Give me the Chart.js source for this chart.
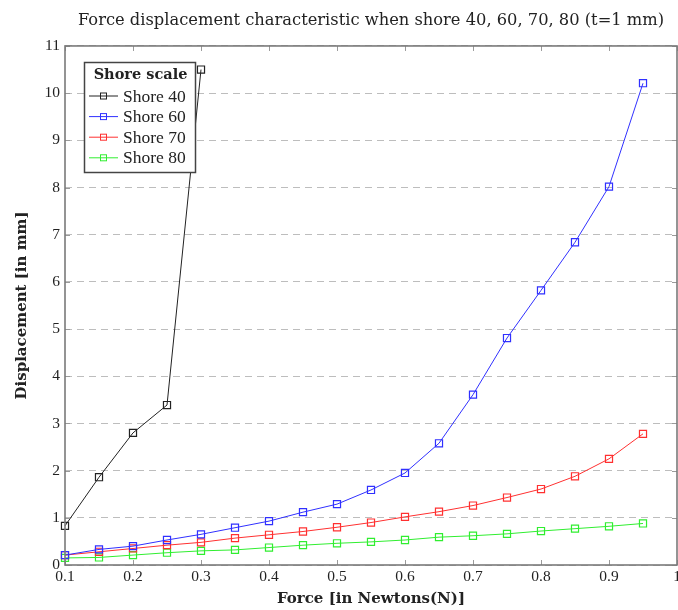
<!DOCTYPE html>
<html>
<head>
<meta charset="utf-8">
<script src="https://cdn.jsdelivr.net/npm/chart.js@4"></script>
<style>
  html, body { margin: 0; padding: 0; background: #fff; }
  #wrap { width: 678px; height: 610px; }
</style>
</head>
<body>
<div id="wrap"><canvas id="chart" width="678" height="610"></canvas></div>
<script>
// values
const forceShore40 = [0.1, 0.15, 0.2, 0.25, 0.3];
const force = [0.1, 0.15, 0.2, 0.25, 0.3, 0.35, 0.4, 0.45, 0.5, 0.55, 0.6, 0.65, 0.7, 0.75, 0.8, 0.85, 0.9, 0.95];

const shore40 = [0.83, 1.86, 2.80, 3.39, 10.5];
const shore60 = [0.21, 0.33, 0.40, 0.53, 0.65, 0.79, 0.93, 1.12, 1.29, 1.59, 1.95, 2.58, 3.61, 4.81, 5.82, 6.84, 8.02, 10.21];
const shore70 = [0.21, 0.28, 0.35, 0.42, 0.48, 0.57, 0.64, 0.71, 0.80, 0.90, 1.02, 1.13, 1.26, 1.43, 1.61, 1.88, 2.25, 2.78];
const shore80 = [0.15, 0.16, 0.21, 0.26, 0.30, 0.32, 0.37, 0.42, 0.46, 0.49, 0.53, 0.59, 0.62, 0.66, 0.72, 0.77, 0.82, 0.88];

const xTicks = [0.1, 0.2, 0.3, 0.4, 0.5, 0.6, 0.7, 0.8, 0.9, 1.0];
const xTickLabels = ['0.1', '0.2', '0.3', '0.4', '0.5', '0.6', '0.7', '0.8', '0.9', '1'];
const yTicks = [0, 1, 2, 3, 4, 5, 6, 7, 8, 9, 10, 11];
const yTickLabels = ['0', '1', '2', '3', '4', '5', '6', '7', '8', '9', '10', '11'];

const seriesNames = ['Shore 40', 'Shore 60', 'Shore 70', 'Shore 80'];
const seriesColors = ['#222222', '#3030ff', '#ff3030', '#30ee30'];

const SERIF = '"Liberation Serif", serif';
const WIDE_SERIF = '"DejaVu Serif", serif';

function pairs(xs, ys) {
  return ys.map((y, i) => ({ x: xs[i], y }));
}

function makeSet(idx, xs, ys) {
  return {
    label: seriesNames[idx],
    data: pairs(xs, ys),
    borderColor: seriesColors[idx],
    borderWidth: 1,
    tension: 0,
    clip: 8,
    pointStyle: 'rect',
    pointRadius: 5,
    pointBorderWidth: 1.2,
    pointBorderColor: seriesColors[idx],
    pointBackgroundColor: 'rgba(255,255,255,0)',
    pointHoverRadius: 5,
  };
}

// pgfplots-like frame with inward ticks
const framePlugin = {
  id: 'frame',
  afterDatasetsDraw(chart) {
    const { ctx, chartArea: a, scales } = chart;
    ctx.save();
    ctx.strokeStyle = '#9a9a9a';
    ctx.lineWidth = 1;
    ctx.beginPath();
    xTicks.forEach(v => {
      const px = Math.round(scales.x.getPixelForValue(v)) + 0.5;
      ctx.moveTo(px, a.bottom); ctx.lineTo(px, a.bottom - 5);
      ctx.moveTo(px, a.top); ctx.lineTo(px, a.top + 5);
    });
    yTicks.forEach(v => {
      const py = Math.round(scales.y.getPixelForValue(v)) + 0.5;
      ctx.moveTo(a.left, py); ctx.lineTo(a.left + 5, py);
      ctx.moveTo(a.right, py); ctx.lineTo(a.right - 5, py);
    });
    ctx.stroke();
    ctx.strokeStyle = '#7a7a7a';
    ctx.lineWidth = 1.6;
    ctx.strokeRect(a.left, a.top, a.right - a.left, a.bottom - a.top);
    ctx.restore();
  },
};

// boxed legend in the upper left of the plot
const boxLegend = {
  id: 'boxLegend',
  afterDraw(chart) {
    const { ctx } = chart;
    const left = 84, top = 62, w = 111, h = 110;
    ctx.save();
    ctx.fillStyle = '#fff';
    ctx.fillRect(left, top, w, h);
    ctx.strokeStyle = '#444';
    ctx.lineWidth = 1.5;
    ctx.strokeRect(left + 0.5, top + 0.5, w, h);

    ctx.fillStyle = '#222';
    ctx.textBaseline = 'middle';
    ctx.textAlign = 'center';
    ctx.font = 'bold 14.5px ' + WIDE_SERIF;
    ctx.fillText('Shore scale', left + w / 2 + 1, 75);

    ctx.textAlign = 'left';
    ctx.font = '17.5px ' + SERIF;
    chart.data.datasets.forEach((ds, i) => {
      const y = 96 + i * 20.6;
      ctx.strokeStyle = ds.borderColor;
      ctx.lineWidth = 1;
      ctx.beginPath();
      ctx.moveTo(89, y); ctx.lineTo(118, y);
      ctx.stroke();
      ctx.strokeRect(100.5, y - 3, 6, 6);
      ctx.fillStyle = '#222';
      ctx.fillText(ds.label, 123, y + 1);
    });
    ctx.restore();
  },
};

new Chart(document.getElementById('chart'), {
  type: 'line',
  data: {
    datasets: [
      makeSet(0, forceShore40, shore40),
      makeSet(1, force, shore60),
      makeSet(2, force, shore70),
      makeSet(3, force, shore80),
    ],
  },
  options: {
    responsive: false,
    animation: false,
    events: [],
    layout: { autoPadding: false, padding: { left: 0, right: 1, top: 0, bottom: 0 } },
    plugins: {
      legend: { display: false },
      tooltip: { enabled: false },
      title: {
        display: true,
        fullSize: false,
        text: 'Force displacement characteristic when shore 40, 60, 70, 80 (t=1 mm)',
        color: '#222',
        font: { family: WIDE_SERIF, size: 16.3, weight: 'normal', lineHeight: 1.2 },
        padding: { top: 11, bottom: 15.4 },
      },
    },
    scales: {
      x: {
        type: 'linear',
        min: 0.1,
        max: 1.0,
        afterBuildTicks(scale) {
          scale.ticks = xTicks.map(v => ({ value: v }));
        },
        afterFit(scale) {
          scale.height = 45;
          scale.paddingLeft = 0;
          scale.paddingRight = 0;
        },
        ticks: {
          autoSkip: false,
          maxRotation: 0,
          padding: 3,
          color: '#222',
          font: { family: SERIF, size: 15.5 },
          callback: (v, i) => xTickLabels[i],
        },
        grid: { display: false, drawTicks: false },
        border: { display: false },
        title: {
          display: true,
          text: 'Force [in Newtons(N)]',
          color: '#222',
          font: { family: WIDE_SERIF, size: 15, weight: 'bold', lineHeight: 1.2 },
          padding: { top: 0, bottom: 2 },
        },
      },
      y: {
        type: 'linear',
        min: 0,
        max: 11,
        afterBuildTicks(scale) {
          scale.ticks = yTicks.map(v => ({ value: v }));
        },
        afterFit(scale) {
          scale.width = 65;
          scale.paddingTop = 0;
          scale.paddingBottom = 0;
        },
        ticks: {
          autoSkip: false,
          padding: 5,
          color: '#222',
          font: { family: SERIF, size: 15.5 },
          callback: (v, i) => yTickLabels[i],
        },
        grid: {
          color: '#bdbdbd',
          lineWidth: 1,
          drawTicks: false,
        },
        border: { display: false, dash: [7, 5] },
        title: {
          display: true,
          text: 'Displacement [in mm]',
          color: '#222',
          font: { family: WIDE_SERIF, size: 15, weight: 'bold', lineHeight: 1.2 },
          padding: { top: 13, bottom: 0 },
        },
      },
    },
  },
  plugins: [framePlugin, boxLegend],
});
</script>
</body>
</html>
